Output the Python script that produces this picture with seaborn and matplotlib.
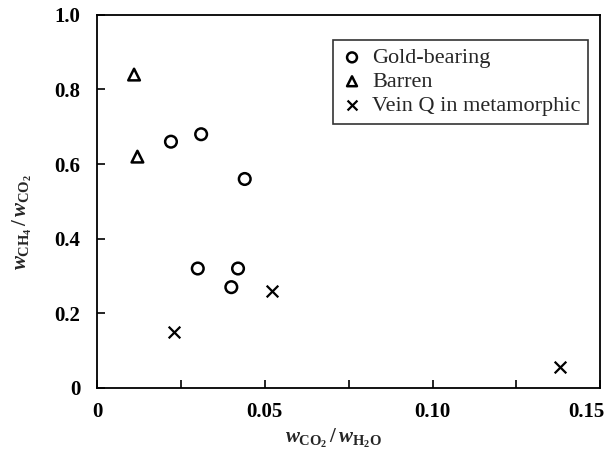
"""Gas ratio scatter: CH4/CO2 against CO2/H2O for fluid inclusion groups."""

import matplotlib.pyplot as plt
import matplotlib.transforms as mtransforms
import pandas as pd
import seaborn as sns

# values
gold_x = [0.022, 0.031, 0.044, 0.030, 0.042, 0.040]
gold_y = [0.66, 0.68, 0.56, 0.32, 0.32, 0.27]
barren_x = [0.011, 0.012]
barren_y = [0.84, 0.62]
vein_x = [0.023, 0.052, 0.138]
vein_y = [0.15, 0.26, 0.055]

groups = ["Gold-bearing", "Barren", "Vein Q in metamorphic"]
x_ticks = [0, 0.025, 0.05, 0.075, 0.10, 0.125, 0.15]
x_labels = ["0", "", "0.05", "", "0.10", "", "0.15"]
y_ticks = [0, 0.2, 0.4, 0.6, 0.8, 1.0]
y_labels = ["0", "0.2", "0.4", "0.6", "0.8", "1.0"]

df = pd.DataFrame({
    "x": gold_x + barren_x + vein_x,
    "y": gold_y + barren_y + vein_y,
    "group": [groups[0]] * len(gold_x) + [groups[1]] * len(barren_x) + [groups[2]] * len(vein_x),
})

sns.set_theme(style="ticks")
plt.rcParams["font.family"] = ["Liberation Serif", "DejaVu Serif"]
plt.rcParams["mathtext.fontset"] = "custom"
plt.rcParams["mathtext.rm"] = "Liberation Serif:bold"
plt.rcParams["mathtext.it"] = "Liberation Serif:italic:bold"
plt.rcParams["mathtext.bf"] = "Liberation Serif:bold"

fig = plt.figure(figsize=(6.15, 4.51), dpi=100)
ax = fig.add_axes([0.158, 0.14, 0.818, 0.827])

styles = {
    groups[0]: dict(marker="o", facecolor="none", edgecolor="black", linewidth=1.8),
    groups[1]: dict(marker="^", facecolor="none", edgecolor="black", linewidth=1.8),
    groups[2]: dict(marker="x", color="black", linewidth=1.6),
}
for name in groups:
    sub = df[df["group"] == name]
    sns.scatterplot(data=sub, x="x", y="y", ax=ax, s=70, label=name, **styles[name])

ax.set_xlim(0, 0.15)
ax.set_ylim(0, 1.0)
ax.set_xticks(x_ticks)
ax.set_xticklabels(x_labels)
ax.set_yticks(y_ticks)
ax.set_yticklabels(y_labels)
ax.tick_params(direction="in", length=6, width=1.2, labelsize=15, colors="black")
ax.tick_params(axis="x", pad=10)
ax.tick_params(axis="y", pad=12)
for lab in ax.get_xticklabels() + ax.get_yticklabels():
    lab.set_fontweight("bold")
# last x label sits a little left of its tick, as in the print
last = ax.get_xticklabels()[-1]
last.set_transform(last.get_transform() + mtransforms.ScaledTranslation(-0.14, 0, fig.dpi_scale_trans))
for sp in ax.spines.values():
    sp.set_linewidth(1.3)
    sp.set_color("black")

ax.set_xlabel(r"$w_{\mathrm{CO_2}}\,/\,w_{\mathrm{H_2O}}$", fontsize=15)
ax.xaxis.set_label_coords(0.47, -0.105)
ax.set_ylabel(r"$w_{\mathrm{CH_4}}\,/\,w_{\mathrm{CO_2}}$", fontsize=15)
ax.yaxis.set_label_coords(-0.126, 0.445)

leg = ax.legend(loc="upper right", bbox_to_anchor=(0.976, 0.933), frameon=True,
                fancybox=False, edgecolor="black", fontsize=16, handletextpad=0.4,
                borderpad=0.35, labelspacing=0.15, handlelength=1.0, markerscale=0.85,
                borderaxespad=0)
leg.get_frame().set_linewidth(1.2)

fig.savefig("out.png", dpi=100)
